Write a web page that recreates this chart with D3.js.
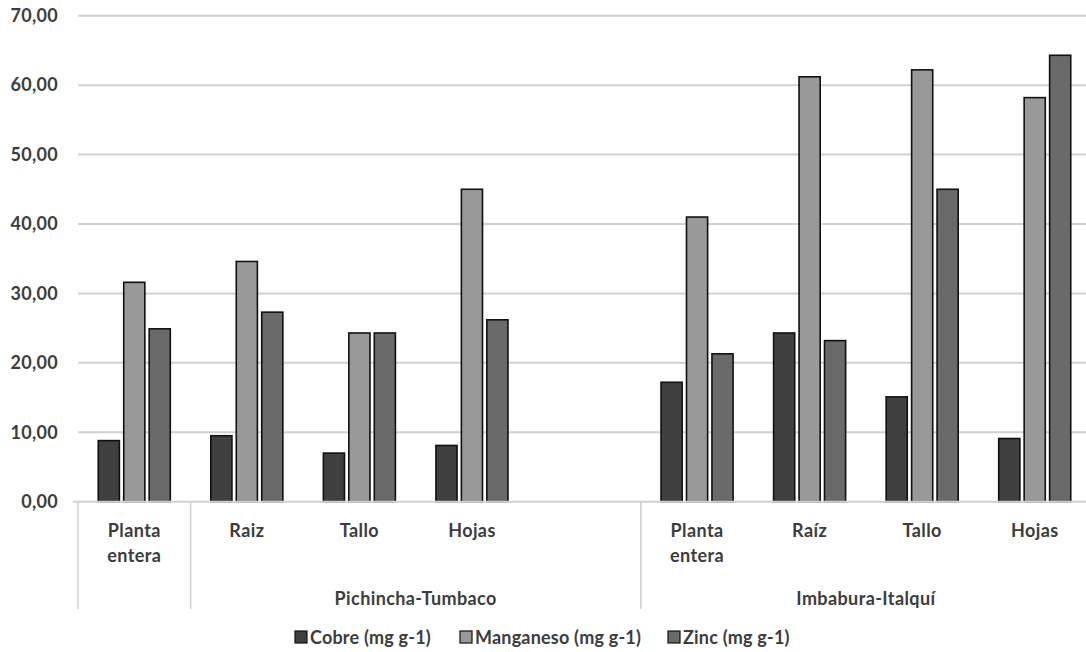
<!DOCTYPE html>
<html>
<head>
<meta charset="utf-8">
<script src="https://cdn.jsdelivr.net/npm/d3@7"></script>
<style>
  body { margin: 0; background: #fff; }
  text { font-family: Lato, "Open Sans", sans-serif; font-weight: bold; fill: #3c3c3c; }
</style>
</head>
<body>
<div id="chart"></div>
<script>
// data
var categories = ["Planta entera", "Raiz", "Tallo", "Hojas", "", "Planta entera", "Raíz", "Tallo", "Hojas"];
var cobre = [8.8, 9.5, 7.0, 8.1, null, 17.2, 24.3, 15.1, 9.1];
var manganeso = [31.6, 34.6, 24.3, 45.0, null, 41.0, 61.2, 62.2, 58.2];
var zinc = [24.9, 27.3, 24.3, 26.2, null, 21.3, 23.2, 45.0, 64.3];
var seriesNames = ["Cobre (mg g-1)", "Manganeso (mg g-1)", "Zinc (mg g-1)"];
var groupLabels = ["", "Pichincha-Tumbaco", "Imbabura-Italquí"];
var groupStart = [0, 1, 5];
var groupEnd = [0, 4, 8];
var yTicks = [0, 10, 20, 30, 40, 50, 60, 70];

var svgWidth = 1086;
var svgHeight = 652;
var colors = ["#404040", "#999999", "#6a6a6a"];

var svg = d3.select("#chart")
  .append("svg")
  .attr("width", svgWidth)
  .attr("height", svgHeight);

var series = [cobre, manganeso, zinc];
var idx = d3.range(categories.length);

// scales
var x0 = d3.scaleBand()
  .domain(idx)
  .range([78, 1091])
  .paddingInner(0.36)
  .paddingOuter(0.18);
var step = x0.step();

var x1 = d3.scaleBand()
  .domain(d3.range(series.length))
  .range([0, x0.bandwidth()])
  .paddingInner(0.17);

var y = d3.scaleLinear()
  .domain([0, 70])
  .range([501.7, 15.7]);

var fmt = d3.formatLocale({decimal: ",", thousands: ".", grouping: [3], currency: ["", ""]}).format(".2f");

// slot edge (left) of a category
function slotLeft(i) {
  return x0(i) - step * x0.paddingInner() / 2;
}

// gridlines
svg.append("g")
  .selectAll("line")
  .data(yTicks.slice(1))
  .enter()
  .append("line")
  .attr("x1", 78)
  .attr("x2", svgWidth)
  .attr("y1", d => y(d))
  .attr("y2", d => y(d))
  .attr("stroke", "#d0d0d0")
  .attr("stroke-width", 2);

// y axis labels
var yAxis = d3.axisLeft(y).tickValues(yTicks).tickFormat(fmt).tickSize(0).tickPadding(0);
var yg = svg.append("g")
  .attr("transform", "translate(58,0)")
  .call(yAxis);
yg.select(".domain").remove();
yg.selectAll("text")
  .attr("font-size", "18px")
  .attr("letter-spacing", "0.3px")
  .attr("fill", "#3c3c3c")
  .style("font-family", "Lato, sans-serif")
  .style("font-weight", "bold");

// bars
var rows = idx.filter(i => categories[i] !== "");
var barGroups = svg.append("g")
  .selectAll("g")
  .data(rows)
  .enter()
  .append("g")
  .attr("transform", i => `translate(${x0(i)},0)`);

barGroups.selectAll("rect")
  .data(i => series.map((s, k) => ({k: k, v: s[i]})))
  .enter()
  .append("rect")
  .attr("x", d => x1(d.k))
  .attr("width", x1.bandwidth())
  .attr("y", d => y(d.v))
  .attr("height", d => y(0) - y(d.v))
  .attr("fill", d => colors[d.k])
  .attr("stroke", "#111")
  .attr("stroke-width", 1.6);

// x axis line
svg.append("line")
  .attr("x1", 73)
  .attr("x2", svgWidth)
  .attr("y1", y(0))
  .attr("y2", y(0))
  .attr("stroke", "#d0d0d0")
  .attr("stroke-width", 2);

// group separators
var sepX = groupStart.map(i => slotLeft(i));
svg.append("g")
  .selectAll("line")
  .data(sepX)
  .enter()
  .append("line")
  .attr("x1", d => d)
  .attr("x2", d => d)
  .attr("y1", y(0))
  .attr("y2", 609)
  .attr("stroke", "#d0d0d0")
  .attr("stroke-width", 1.5);

// category labels (wrap two words)
var catText = svg.append("g")
  .selectAll("text")
  .data(idx.filter(i => categories[i] !== ""))
  .enter()
  .append("text")
  .attr("text-anchor", "middle")
  .attr("font-size", "18px")
  .attr("letter-spacing", "0.4px")
  .attr("x", i => x0(i) + x0.bandwidth() / 2)
  .attr("y", 537);
catText.selectAll("tspan")
  .data(i => categories[i].split(" ").map(w => ({w: w, i: i})))
  .enter()
  .append("tspan")
  .attr("x", d => x0(d.i) + x0.bandwidth() / 2)
  .attr("dy", (d, j) => j === 0 ? 0 : 25)
  .text(d => d.w);

// outer group labels
svg.append("g")
  .selectAll("text")
  .data(groupLabels.map((g, k) => ({g: g, k: k})).filter(d => d.g !== ""))
  .enter()
  .append("text")
  .attr("text-anchor", "middle")
  .attr("font-size", "18px")
  .attr("letter-spacing", "0.4px")
  .attr("x", d => (slotLeft(groupStart[d.k]) + slotLeft(groupEnd[d.k]) + step) / 2)
  .attr("y", 605)
  .text(d => d.g);

// legend (item positions as in the original layout)
var legendX = [295, 460, 668];
var items = svg.append("g")
  .selectAll("g")
  .data(seriesNames)
  .enter()
  .append("g")
  .attr("transform", (d, k) => `translate(${legendX[k]},0)`);
items.append("rect")
  .attr("width", 12)
  .attr("height", 12)
  .attr("y", 631)
  .attr("fill", (d, k) => colors[k])
  .attr("stroke", "#111")
  .attr("stroke-width", 1.2);
items.append("text")
  .attr("x", 15)
  .attr("y", 644)
  .attr("font-size", "18px")
  .attr("letter-spacing", "0.2px")
  .text(d => d);
</script>
</body>
</html>
